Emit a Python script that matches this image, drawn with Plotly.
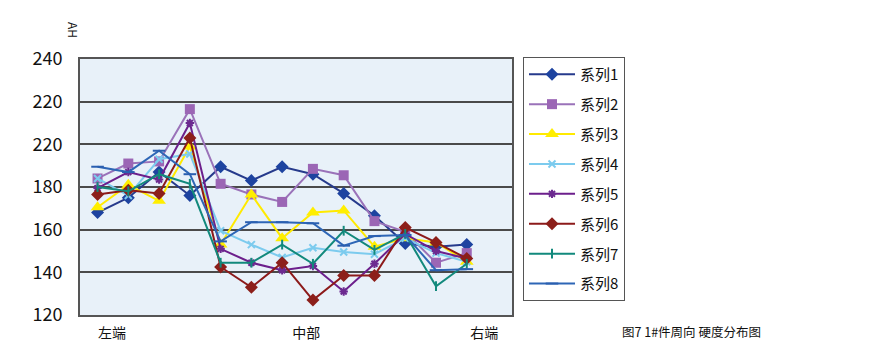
import plotly.graph_objects as go

positions = list(range(1, 14))
x_tick_labels = ["左端", "中部", "右端"]
x_tick_pos = [1.47, 7.78, 13.57]
y_tick_vals = [120, 140, 160, 180, 200, 220, 240]
y_tick_text = ["120", "140", "160", "180", "220", "220", "240"]

series_names = ["系列1", "系列2", "系列3", "系列4", "系列5", "系列6", "系列7", "系列8"]
s1 = [168, 175, 187, 176, 189.5, 183, 189.5, 186, 177, 166.5, 153.5, 152, 153]
s2 = [184, 191, 192, 216.5, 181.5, 176.5, 173, 188.5, 185.5, 164, 159, 144.5, 149]
s3 = [170.5, 181, 173.5, 199, 153, 176.5, 156, 168, 169, 152, 156, 154, 145]
s4 = [184, 176, 193, 195.5, 159.5, 153, 147, 151.5, 149.5, 148.5, 156, 149, 145]
s5 = [179.5, 187, 183.5, 210, 151, 144.5, 141, 143, 131, 144, 158, 150, 146.5]
s6 = [176.5, 178.5, 177, 203, 142.5, 133, 144.5, 127, 138.5, 138.5, 161, 154, 146.5]
s7 = [180, 178, 186, 181.5, 144.5, 144.5, 153, 144, 159.5, 150.5, 158, 133.5, 144]
s8 = [189.5, 187, 197, 186, 154.5, 163.5, 163.5, 163, 152.5, 157, 157.5, 141, 141.5]
values = [s1, s2, s3, s4, s5, s6, s7, s8]

line_colors = ["#263a8c", "#9a72b9", "#ffea00", "#7ccbee", "#6c1f8c", "#8c1a1a", "#12897c", "#2e66b6"]
marker_colors = ["#1d43a0", "#9b66b5", "#ffee00", "#7ccbee", "#6c2a90", "#8c1f1a", "#12897c", "#2a5fb0"]
symbols = ["diamond", "square", "triangle-up", "x-thin", "asterisk", "diamond", "line-ns", "line-ew"]
sizes = [10, 10, 12, 7, 7, 10, 7, 9]

# page offset (browser body margin)
OFF = 8
PL, PR, PT, PB = 80, 512, 59, 315  # target plot area in screenshot pixels
W, H = 870, 359
ml = PL - OFF
mt = PT - OFF
mr = W - (PR - OFF)
mb = H - (PB - OFF)
pw, ph = PR - PL, PB - PT

fig = go.Figure()
for i, (name, vals) in enumerate(zip(series_names, values)):
    sym = symbols[i]
    thin = sym in ("x-thin", "asterisk", "line-ns", "line-ew")
    fig.add_trace(go.Scatter(
        x=positions, y=vals, name=name, mode="lines+markers",
        legendgroup=name,
        line=dict(color=line_colors[i], width=2),
        marker=dict(symbol=sym, size=sizes[i], color=marker_colors[i],
                    line=dict(color=marker_colors[i], width=2 if thin else 0)),
    ))


def px2paper(px, py):
    return (px - PL) / pw, 1 - (py - PT) / ph


lx, ly = px2paper(523, 57)
ax_x, ax_y = px2paper(74, 30)
cap_x, cap_y = px2paper(691, 331)

fig.update_layout(
    width=W, height=H,
    margin=dict(l=ml, r=mr, t=mt, b=mb, autoexpand=False),
    paper_bgcolor="white",
    plot_bgcolor="#e8f1f9",
    font=dict(family="Noto Sans CJK SC", color="#111"),
    showlegend=True,
    legend=dict(
        x=lx, y=ly, xanchor="left", yanchor="top",
        bordercolor="#555", borderwidth=1, bgcolor="white",
        font=dict(size=15, family="Noto Sans CJK SC"),
        tracegroupgap=7.4, maxheight=300, itemwidth=46,
    ),
    xaxis=dict(
        range=[0.43, 14.47], showgrid=False, zeroline=False,
        tickvals=x_tick_pos, ticktext=x_tick_labels,
        tickfont=dict(size=14), ticks="", ticklabelstandoff=4,
        showline=True, linecolor="#555", linewidth=2, mirror=True,
    ),
    yaxis=dict(
        range=[120, 240], tickvals=y_tick_vals, ticktext=y_tick_text,
        tickfont=dict(size=18), ticks="", ticklabelstandoff=12,
        showgrid=True, gridcolor="#4a4a4a", gridwidth=1.5, zeroline=False,
        showline=True, linecolor="#555", linewidth=2, mirror=True,
    ),
    annotations=[
        dict(text="AH", x=ax_x, y=ax_y, xref="paper", yref="paper", showarrow=False,
             xanchor="center", yanchor="middle", textangle=90, font=dict(size=12)),
        dict(text="图7 1#件周向 硬度分布图", x=cap_x, y=cap_y, xref="paper", yref="paper",
             xanchor="center", yanchor="middle", showarrow=False, font=dict(size=12.5)),
    ],
)

fig.write_html("out.html")
